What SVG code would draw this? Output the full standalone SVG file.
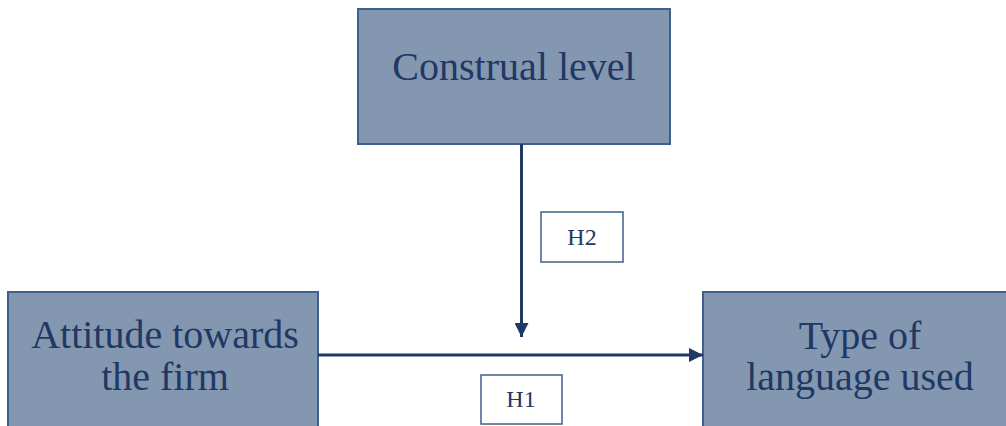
<svg xmlns="http://www.w3.org/2000/svg" width="1006" height="426" viewBox="0 0 1006 426">
<style>
.node{fill:#8497b0;stroke:#3f5f8f;stroke-width:2}
.lbl{fill:#fff;stroke:#3f5f8f;stroke-width:1.5}
.t{font-family:"Liberation Serif","Times New Roman",serif;fill:#1f3864;text-anchor:middle}
.big{font-size:40px}
.small{font-size:24px}
.conn{stroke:#1f3864;stroke-width:3;fill:none}
</style>
<defs>
<marker id="arr" markerWidth="10" markerHeight="8" refX="9" refY="4" orient="auto" markerUnits="userSpaceOnUse" viewBox="0 0 10 8">
<path d="M0,0 L10,4 L0,8 Z" fill="#1f3864"/>
</marker>
<marker id="arrv" markerWidth="14" markerHeight="14" refX="14" refY="7" orient="auto" markerUnits="userSpaceOnUse" viewBox="0 0 14 14">
<path d="M0,0 L14,7 L0,14 Z" fill="#1f3864"/>
</marker>
</defs>
<g id="construal">
<rect class="node" x="358" y="9" width="312" height="135"/>
<text class="t big" x="514" y="80">Construal level</text>
</g>
<g id="attitude">
<rect class="node" x="8" y="292" width="310" height="140"/>
<text class="t big" x="165" y="348">Attitude towards</text>
<text class="t big" x="165" y="390">the firm</text>
</g>
<g id="language">
<rect class="node" x="703" y="292" width="310" height="140"/>
<text class="t big" x="860" y="349">Type of</text>
<text class="t big" x="860" y="390">language used</text>
</g>
<g id="connectors">
<line class="conn" x1="521.5" y1="144" x2="521.5" y2="337" marker-end="url(#arrv)"/>
<line class="conn" x1="318" y1="355" x2="703" y2="355" marker-end="url(#arrv)"/>
</g>
<g id="h2">
<rect class="lbl" x="541" y="212" width="82" height="50"/>
<text class="t small" x="582" y="245">H2</text>
</g>
<g id="h1">
<rect class="lbl" x="481" y="375" width="81" height="49"/>
<text class="t small" x="521" y="407">H1</text>
</g>
</svg>
